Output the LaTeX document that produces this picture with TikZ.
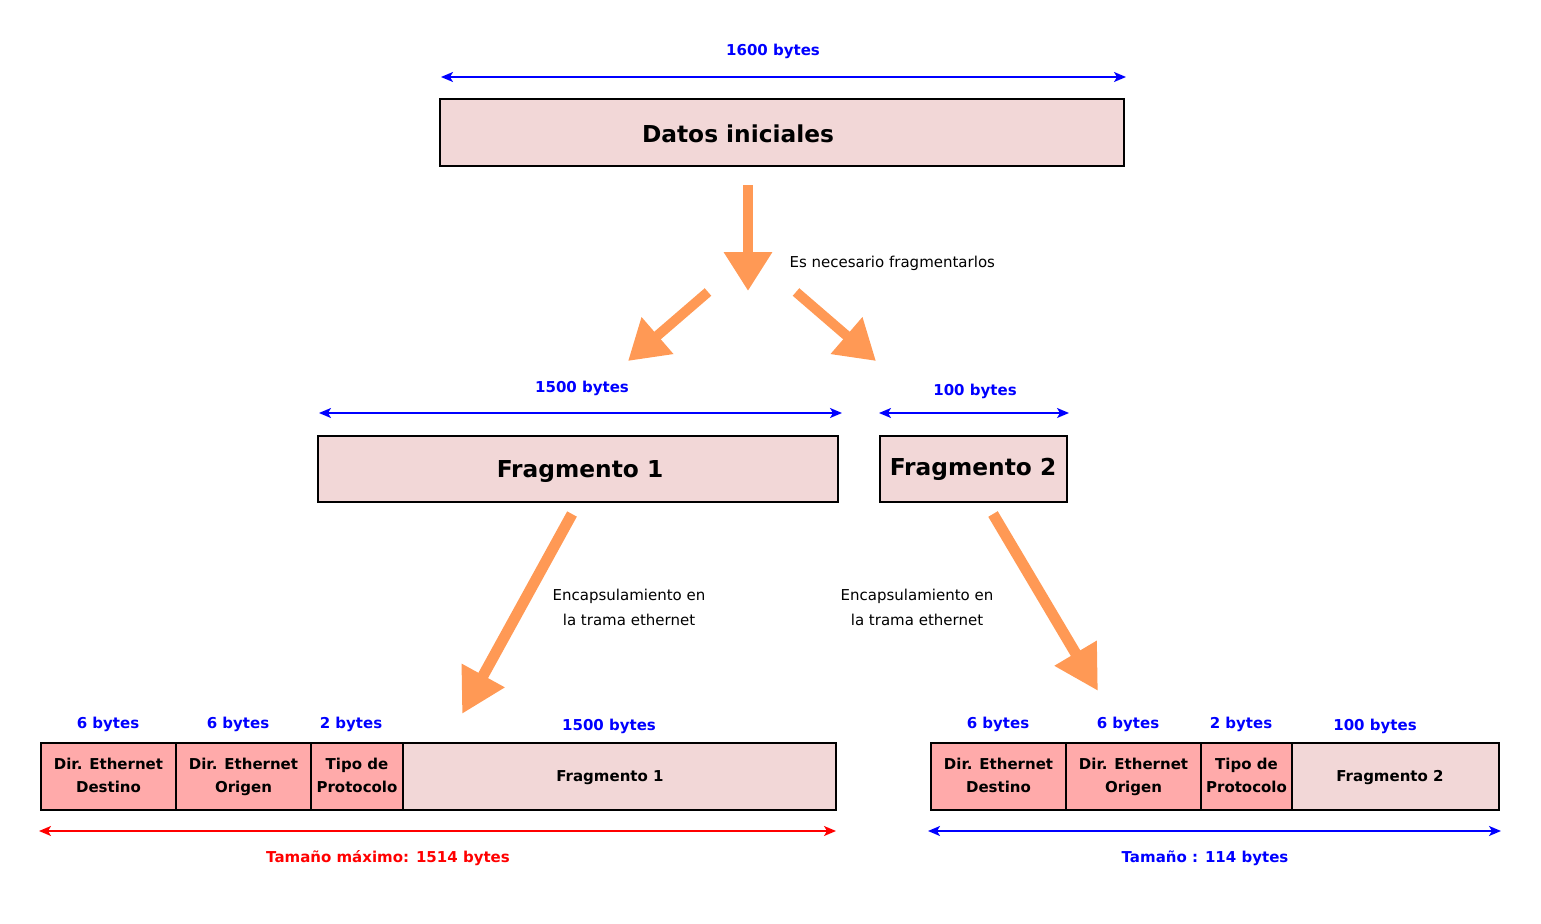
\documentclass[tikz,border=0pt]{standalone}
\usepackage{fontspec}
\setmainfont{DejaVu Sans}
\usetikzlibrary{arrows.meta}
\definecolor{boxfill}{HTML}{F2D7D7}
\definecolor{hdrfill}{HTML}{FFAAAA}
\definecolor{orangearr}{HTML}{FF9955}
\definecolor{dimblue}{HTML}{0000FF}
\definecolor{dimred}{HTML}{FF0000}
\tikzset{
  bigbox/.style={draw=black, line width=1.8pt, fill=boxfill, inner sep=0pt},
  hdrcell/.style={draw=black, line width=1.8pt, fill=hdrfill, inner sep=0pt, align=center,
     font=\bfseries\fontsize{15}{23}\selectfont},
  datacell/.style={draw=black, line width=1.8pt, fill=boxfill, inner sep=0pt},
  bigtxt/.style={font=\bfseries\fontsize{23.3}{28}\selectfont},
  smalltxt/.style={font=\bfseries\fontsize{15}{18}\selectfont},
  bluelbl/.style={smalltxt, text=dimblue},
  note/.style={font=\fontsize{15}{25}\selectfont, align=center},
  dimline/.style={line width=1.6pt, {Stealth[length=12pt,width=10pt,inset=3pt]}-{Stealth[length=12pt,width=10pt,inset=3pt]}},
  fatarrow/.style={draw=orangearr, line width=10pt, -{Triangle[length=39pt,width=46pt]}, orangearr},
  fatarrowb/.style={draw=orangearr, line width=11pt, -{Triangle[length=44pt,width=46pt]}, orangearr},
}
\begin{document}
\begin{tikzpicture}[x=1pt,y=-1pt]
\useasboundingbox (0,0) rectangle (1541,923);

% --- top ---
\node[bluelbl] (l1600) at (773,51) {1600 bytes};
\coordinate (a1600l) at (441,77);
\coordinate (a1600r) at (1126,77);
\draw[dimline, dimblue] (a1600l) -- (a1600r);
\node[bigbox, minimum width=684pt, minimum height=67pt] (datos) at (782,132.5) {};
\node[bigtxt] (datostxt) at (738,134) {Datos iniciales};

% --- fragmentation arrows ---
\coordinate (v0) at (748,185);
\coordinate (v1) at (748,291);
\draw[fatarrow] (v0) -- (v1);
\node[note, anchor=west] (esnec) at (786,263) {Es necesario fragmentarlos};
\coordinate (dl0) at (708,292);
\coordinate (dl1) at (628,361);
\draw[fatarrow] (dl0) -- (dl1);
\coordinate (dr0) at (796,292);
\coordinate (dr1) at (876,361);
\draw[fatarrow] (dr0) -- (dr1);

% --- fragments ---
\node[bluelbl] (l1500) at (582,388) {1500 bytes};
\coordinate (a1500l) at (319,413);
\coordinate (a1500r) at (842,413);
\draw[dimline, dimblue] (a1500l) -- (a1500r);
\node[bigbox, minimum width=520pt, minimum height=66pt] (frag1) at (578,469) {};
\node[bigtxt] (frag1txt) at (580,472) {Fragmento 1};

\node[bluelbl] (l100) at (975,391) {100 bytes};
\coordinate (a100l) at (879,413);
\coordinate (a100r) at (1069,413);
\draw[dimline, dimblue] (a100l) -- (a100r);
\node[bigbox, minimum width=187pt, minimum height=66pt] (frag2) at (973.5,469) {};
\node[bigtxt] (frag2txt) at (973,469) {Fragmento 2};

% --- encapsulation arrows ---
\coordinate (el0) at (572,514);
\coordinate (el1) at (462,714);
\draw[fatarrowb] (el0) -- (el1);
\coordinate (er0) at (993,514);
\coordinate (er1) at (1098,691);
\draw[fatarrowb] (er0) -- (er1);
\node[note] (enc1) at (629,607) {Encapsulamiento en\\la trama ethernet};
\node[note] (enc2) at (917,607) {Encapsulamiento en\\la trama ethernet};

% --- frame 1 ---
\node[hdrcell, minimum width=135pt, minimum height=67pt] (d1) at (108.5,776.5) {Dir. Ethernet\\Destino\vphantom{g}};
\node[hdrcell, minimum width=135pt, minimum height=67pt] (o1) at (243.5,776.5) {Dir. Ethernet\\Origen};
\node[hdrcell, minimum width=92pt, minimum height=67pt] (t1) at (357,776.5) {Tipo de\\Protocolo\vphantom{g}};
\node[datacell, minimum width=433pt, minimum height=67pt] (f1) at (619.5,776.5) {};
\node[smalltxt] (f1txt) at (610,777.5) {Fragmento 1};
\node[bluelbl] (b1a) at (108,724) {6 bytes};
\node[bluelbl] (b1b) at (238,724) {6 bytes};
\node[bluelbl] (b1c) at (351,724) {2 bytes};
\node[bluelbl] (b1d) at (609,726) {1500 bytes};
\coordinate (t1l) at (39,831);
\coordinate (t1r) at (836,831);
\draw[dimline, dimred] (t1l) -- (t1r);
\node[smalltxt, text=dimred] (tam1) at (388,858) {Tamaño máximo: 1514 bytes};

% --- frame 2 ---
\node[hdrcell, minimum width=135pt, minimum height=67pt] (d2) at (998.5,776.5) {Dir. Ethernet\\Destino\vphantom{g}};
\node[hdrcell, minimum width=135pt, minimum height=67pt] (o2) at (1133.5,776.5) {Dir. Ethernet\\Origen};
\node[hdrcell, minimum width=91pt, minimum height=67pt] (t2) at (1246.5,776.5) {Tipo de\\Protocolo\vphantom{g}};
\node[datacell, minimum width=207pt, minimum height=67pt] (f2) at (1395.5,776.5) {};
\node[smalltxt] (f2txt) at (1390,777.5) {Fragmento 2};
\node[bluelbl] (b2a) at (998,724) {6 bytes};
\node[bluelbl] (b2b) at (1128,724) {6 bytes};
\node[bluelbl] (b2c) at (1241,724) {2 bytes};
\node[bluelbl] (b2d) at (1375,726) {100 bytes};
\coordinate (t2l) at (928,831);
\coordinate (t2r) at (1501,831);
\draw[dimline, dimblue] (t2l) -- (t2r);
\node[bluelbl] (tam2) at (1205,858) {Tamaño : 114 bytes};
\end{tikzpicture}
\end{document}
